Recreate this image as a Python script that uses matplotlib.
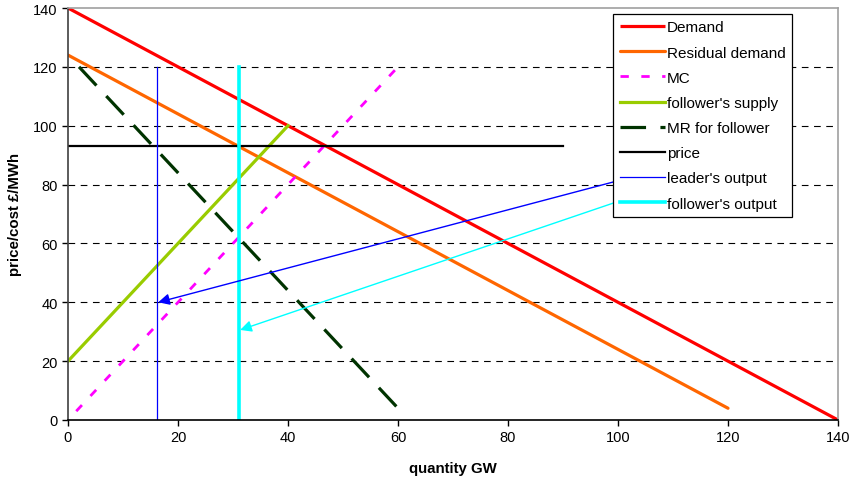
import matplotlib
matplotlib.use("Agg")
import matplotlib.pyplot as plt

plt.rcParams['font.family'] = ['Liberation Sans', 'DejaVu Sans']

# Data
demand_q = [0, 140]
demand_p = [140, 0]
resid_q = [0, 120]
resid_p = [124, 4]
mc_q = [1.5, 60.5]
mc_p = [3, 121]
fsup_q = [0, 40]
fsup_p = [20, 100]
mr_q = [2, 60]
mr_p = [120, 4]
price_q = [0, 90]
price_p = [93, 93]
leader_q = [16.2, 16.2]
leader_p = [0, 120]
follower_q = [31, 31]
follower_p = [0, 120]
arrow_leader = ((100.4, 81.5), (16.4, 40))
arrow_follower = ((99.6, 74), (31.3, 30.6))
ticks = [0, 20, 40, 60, 80, 100, 120, 140]

fig = plt.figure(figsize=(8.52, 4.85), dpi=100)
ax = fig.add_axes([68/852, 64/485, 770/852, 412/485])

ax.plot(demand_q, demand_p, color='#ff0000', lw=2.3, label='Demand', solid_capstyle='butt')
ax.plot(resid_q, resid_p, color='#ff6600', lw=2.3, label='Residual demand', solid_capstyle='round')
ax.plot(mc_q, mc_p, color='#ff00ff', lw=2.0, dashes=(3, 4.5), label='MC')
ax.plot(fsup_q, fsup_p, color='#99cc00', lw=2.3, label="follower's supply")
ax.plot(mr_q, mr_p, color='#003300', lw=2.3, dashes=(8, 4.5), label='MR for follower')
ax.plot(price_q, price_p, color='black', lw=1.6, label='price')
ax.plot(leader_q, leader_p, color='#0000ff', lw=0.9, label="leader's output")
ax.plot(follower_q, follower_p, color='#00ffff', lw=2.6, label="follower's output")

ax.annotate('', xy=arrow_leader[1], xytext=arrow_leader[0],
            arrowprops=dict(arrowstyle='-|>', color='#0000ff', lw=1.0, mutation_scale=17,
                            shrinkA=0, shrinkB=0))
ax.annotate('', xy=arrow_follower[1], xytext=arrow_follower[0],
            arrowprops=dict(arrowstyle='-|>', color='#00ffff', lw=1.0, mutation_scale=17,
                            shrinkA=0, shrinkB=0))

ax.set_xlim(0, 140)
ax.set_ylim(0, 140)
ax.set_xticks(ticks)
ax.set_yticks(ticks)
ax.tick_params(labelsize=10.5, length=4, width=1, colors='black')
for y in ticks[1:-1]:
    ax.axhline(y, color='black', lw=0.8, dashes=(6, 5), zorder=0)

for s in ['top', 'right']:
    ax.spines[s].set_color('#a0a0a0')
    ax.spines[s].set_linewidth(1.2)
ax.spines['left'].set_color('#404040')
ax.spines['bottom'].set_color('black')
ax.spines['left'].set_linewidth(1.2)
ax.spines['bottom'].set_linewidth(1.2)

ax.set_xlabel('quantity GW', fontsize=10.8, fontweight='bold', labelpad=12)
ax.set_ylabel('price/cost £/MWh', fontsize=10.8, fontweight='bold', labelpad=8)

leg = ax.legend(loc='upper right', bbox_to_anchor=(0.9403, 0.9854), fontsize=11,
                handlelength=3.0, handletextpad=0.1, borderpad=0.42, labelspacing=0.73,
                borderaxespad=0, fancybox=False, framealpha=1, edgecolor='black')
leg.get_frame().set_linewidth(0.9)

fig.savefig('out.png', dpi=100)
